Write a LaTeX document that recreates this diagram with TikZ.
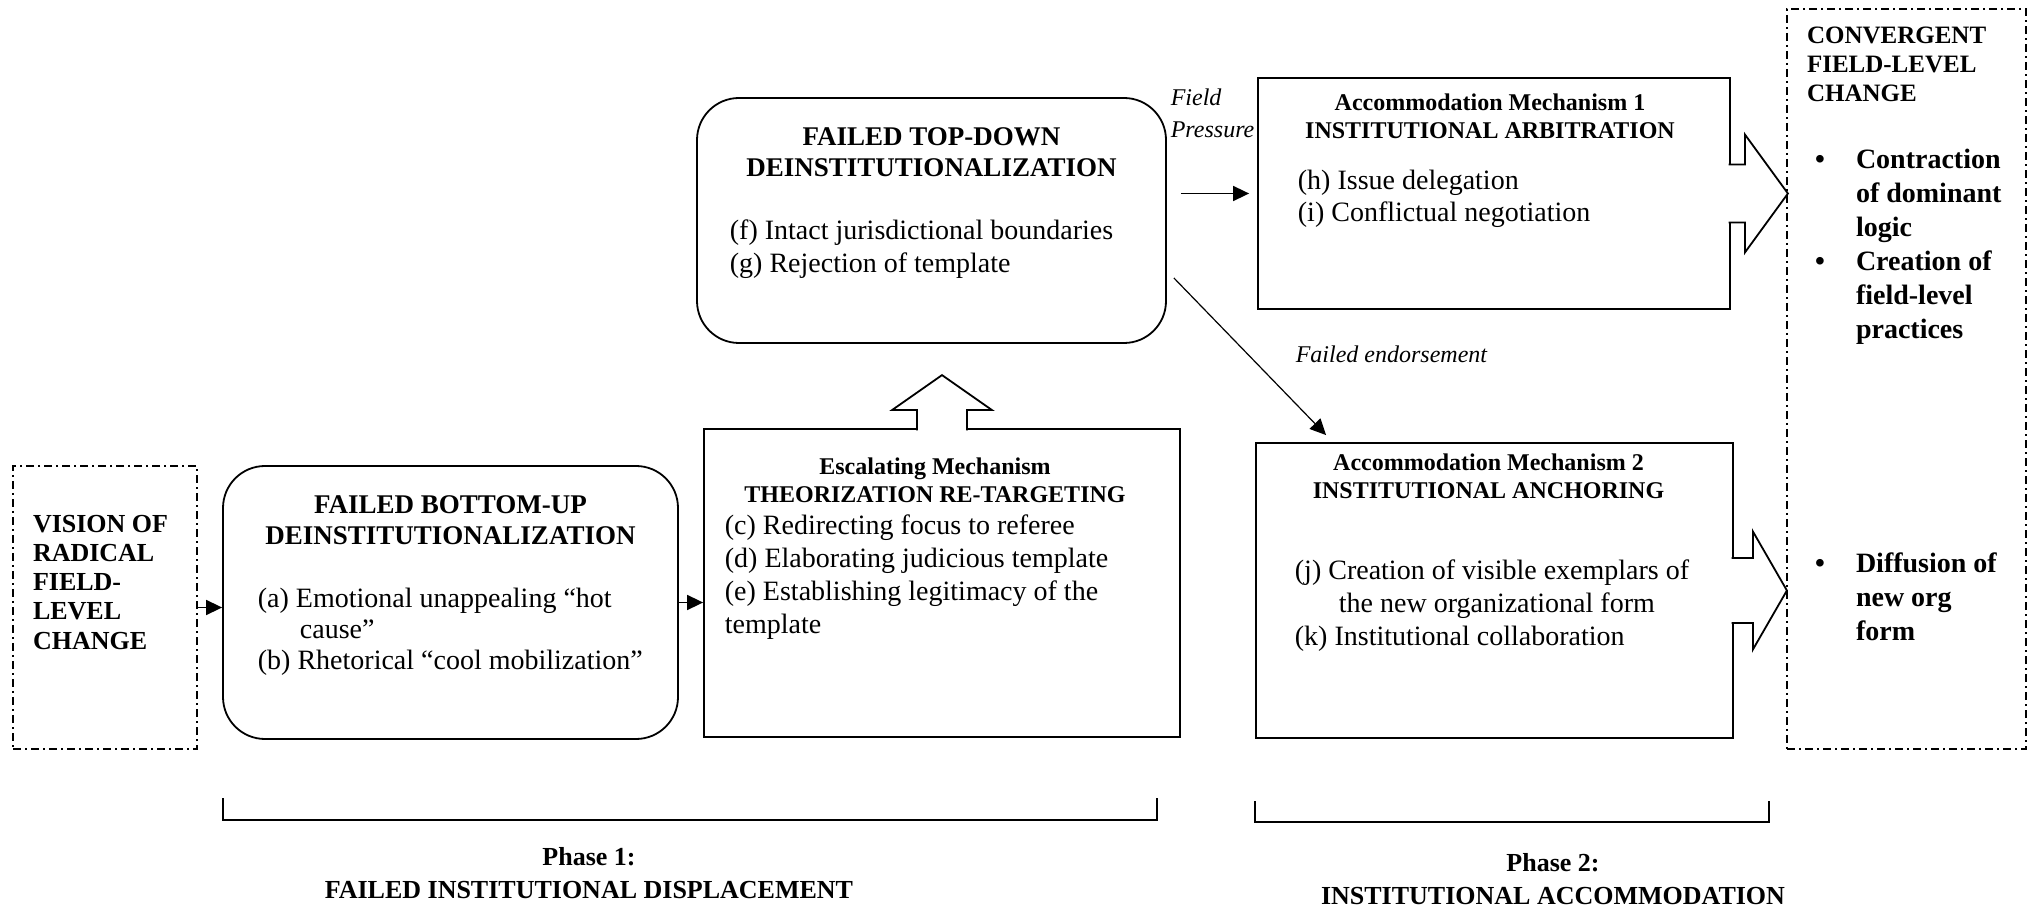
\documentclass[tikz,border=0pt]{standalone}
\usepackage{fontspec}
\setmainfont{Liberation Serif}
\usetikzlibrary{arrows.meta, positioning}

\begin{document}
\begin{tikzpicture}[x=0.5pt, y=-0.5pt, line width=0.8pt,
        >={Triangle[length=8pt,width=7.5pt]},
        rbox/.style={draw, line width=0.9pt, rounded corners=21pt, inner sep=0pt},
        sbox/.style={draw, line width=0.9pt, inner sep=0pt},
        dbox/.style={draw, line width=0.8pt, dash pattern=on 4pt off 2pt on 1pt off 2pt, inner sep=0pt},
        boxtitle/.style={font=\fontsize{13.5}{15.5}\selectfont\bfseries, align=center, inner sep=0pt},
        mechtitle/.style={font=\fontsize{12}{14}\selectfont\bfseries, align=center, inner sep=0pt},
        itemtext/.style={font=\fontsize{14}{16.5}\selectfont, align=left, inner sep=0pt},
        bigcaps/.style={font=\fontsize{13}{14.6}\selectfont\bfseries, align=left, inner sep=0pt},
        bullets/.style={font=\fontsize{14}{17}\selectfont\bfseries, inner sep=0pt},
        flowlabel/.style={font=\fontsize{12}{16}\selectfont\itshape, align=left, inner sep=0pt},
        phase/.style={font=\fontsize{13}{16.5}\selectfont\bfseries, align=center, inner sep=0pt},
        bracket/.style={line width=0.6pt},
        fatarrow/.style={draw, fill=white, line width=0.9pt, line join=miter}]
        \useasboundingbox (0,0) rectangle (2029,908);

        % phase 1
        \node[dbox, minimum width=92pt, minimum height=141.5pt] (vision) at (105,607.5) {};
        \node[bigcaps] (visiontext) [below right=24.5pt and 10pt of vision.north west] {VISION OF\\RADICAL\\FIELD-\\LEVEL\\CHANGE};

        \node[rbox, minimum width=227.5pt, minimum height=136.5pt] (bottomup) at (450.5,602.5) {};
        \node[boxtitle] (butitle) [below=15pt of bottomup.north] {FAILED BOTTOM-UP\\DEINSTITUTIONALIZATION};
        \node[itemtext, font=\fontsize{14}{15.5}\selectfont] (buitems) [below right=61pt and 17.5pt of bottomup.north west]
            {(a) Emotional unappealing “hot\\\hspace*{21pt}cause”\\(b) Rhetorical “cool mobilization”};

        \node[sbox, minimum width=238pt, minimum height=154pt] (theor) at (942,583) {};
        \node[mechtitle] (thtitle) [below=14.5pt of theor.north, xshift=-3.5pt] {Escalating Mechanism\\THEORIZATION RE-TARGETING};
        \node[itemtext] (thitems) [below right=43pt and 10.5pt of theor.north west]
            {(c) Redirecting focus to referee\\(d) Elaborating judicious template\\(e) Establishing legitimacy of the\\template};

        \node[rbox, minimum width=234.5pt, minimum height=122.5pt] (topdown) at (931.5,220.5) {};
        \node[boxtitle] (tdtitle) [below=15pt of topdown.north] {FAILED TOP-DOWN\\DEINSTITUTIONALIZATION};
        \node[itemtext] (tditems) [below right=61pt and 16.5pt of topdown.north west]
            {(f) Intact jurisdictional boundaries\\(g) Rejection of template};

        % phase 2
        \node[sbox, minimum width=236pt, minimum height=115.5pt] (am1) at (1494,193.5) {};
        \node[mechtitle] (am1title) [below=8pt of am1.north, xshift=-2pt] {Accommodation Mechanism 1\\INSTITUTIONAL ARBITRATION};
        \node[itemtext, font=\fontsize{14}{16}\selectfont] (am1items) [below right=46pt and 20pt of am1.north west]
            {(h) Issue delegation\\(i) Conflictual negotiation};

        \node[sbox, minimum width=238.5pt, minimum height=147.5pt] (am2) at (1494.5,590.5) {};
        \node[mechtitle] (am2title) [below=5.5pt of am2.north, xshift=-3pt] {Accommodation Mechanism 2\\INSTITUTIONAL ANCHORING};
        \node[itemtext] (am2items) [below right=58.5pt and 19.5pt of am2.north west]
            {(j) Creation of visible exemplars of\\\hspace*{22pt}the new organizational form\\(k) Institutional collaboration};

        \node[dbox, minimum width=119.5pt, minimum height=370pt] (conv) at (1906.5,379) {};
        \node[bigcaps, font=\fontsize{12.5}{14.5}\selectfont\bfseries] (convtitle) [below right=9pt and 10pt of conv.north west]
            {CONVERGENT\\FIELD-LEVEL\\CHANGE};
        \node[bullets] (convlist1) [below right=68pt and 14pt of conv.north west]
            {\begin{tabular}{@{}p{20.5pt}@{}l@{}}\textbullet & Contraction\\ & of dominant\\ & logic\\
             \textbullet & Creation of\\ & field-level\\ & practices\end{tabular}};
        \node[bullets] (convlist2) [below right=270pt and 14pt of conv.north west]
            {\begin{tabular}{@{}p{20.5pt}@{}l@{}}\textbullet & Diffusion of\\ & new org\\ & form\end{tabular}};

        % labels
        \node[flowlabel, anchor=north west] (fieldlbl) at (1170,88) {Field\\Pressure};
        \node[flowlabel, anchor=north west] (failedlbl) at (1295,345) {Failed endorsement};

        \path[->]
        (vision.east) edge (vision.east -| bottomup.west)
        (bottomup.east) edge (bottomup.east -| theor.west)
        (topdown.east |- am1.west) edge[shorten <=7pt, shorten >=4pt] (am1.west)
        ([xshift=3.5pt,yshift=-28.75pt]topdown.east) edge[line width=0.6pt] ([xshift=35.5pt,yshift=3.5pt]am2.north west);

        % block arrows
        \draw[fatarrow] ([xshift=-12.5pt,yshift=-1.2pt]theor.north) -- ++(0pt,10.2pt) -- ++(-12.5pt,0pt)
            -- ++(25pt,17.5pt) -- ++(25pt,-17.5pt) -- ++(-12.5pt,0pt) -- ++(0pt,-10.2pt);
        \draw[fatarrow] ([xshift=-1.2pt,yshift=14.5pt]am1.east) -- ++(8.2pt,0pt) -- ++(0pt,15pt)
            -- ++(21.5pt,-29.5pt) -- ++(-21.5pt,-29.5pt) -- ++(0pt,15pt) -- ++(-8.2pt,0pt);
        \draw[fatarrow] ([xshift=-1.2pt,yshift=16.25pt]am2.east) -- ++(10.7pt,0pt) -- ++(0pt,13.25pt)
            -- ++(17pt,-29.5pt) -- ++(-17pt,-29.5pt) -- ++(0pt,13.25pt) -- ++(-10.7pt,0pt);

        % phases
        \draw[bracket] (223,798) |- (1157,820) -- (1157,798);
        \draw[bracket] (1255,801) |- (1769,822) -- (1769,801);
        \node[phase] (phase1) at (589,873.5) {Phase 1:\\FAILED INSTITUTIONAL DISPLACEMENT};
        \node[phase] (phase2) at (1553,879.5) {Phase 2:\\INSTITUTIONAL ACCOMMODATION};
\end{tikzpicture}
\end{document}
